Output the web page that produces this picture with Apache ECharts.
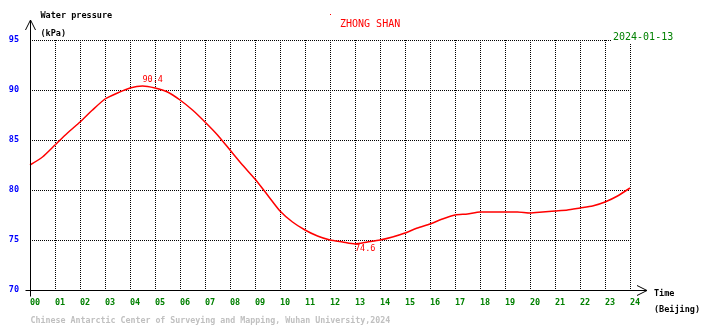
<!DOCTYPE html>
<html>
<head>
<meta charset="utf-8">
<script src="https://cdn.jsdelivr.net/npm/echarts@6/dist/echarts.min.js"></script>
<style>
  html, body { margin: 0; padding: 0; background: #ffffff; }
  #chart { width: 710px; height: 328px; }
</style>
</head>
<body>
<div id="chart"></div>
<script>
// Zhongshan station water pressure, one day, half-hourly readings (Beijing time)
const stationName = 'ZHONG SHAN';
const dateLabel = '2024-01-13';
const hours = [
  0, 0.5, 1, 1.5, 2, 2.5, 3, 3.5, 4, 4.5, 5, 5.5, 6, 6.5, 7, 7.5, 8, 8.5,
  9, 9.5, 10, 10.5, 11, 11.5, 12, 12.5, 13, 13.5, 14, 14.5, 15, 15.5, 16, 16.5,
  17, 17.5, 18, 18.5, 19, 19.5, 20, 20.5, 21, 21.5, 22, 22.5, 23, 23.5, 24
];
const pressure = [
  82.5, 83.3, 84.5, 85.7, 86.8, 88.0, 89.1, 89.7, 90.2, 90.4, 90.2, 89.8, 89.0, 88.0, 86.8, 85.5, 84.0, 82.5,
  81.1, 79.5, 77.9, 76.8, 76.0, 75.4, 75.0, 74.8, 74.6, 74.8, 75.0, 75.3, 75.7, 76.2, 76.6, 77.1,
  77.5, 77.6, 77.8, 77.8, 77.8, 77.8, 77.7, 77.8, 77.9, 78.0, 78.2, 78.4, 78.8, 79.4, 80.2
];
const hourTicks = ['00','01','02','03','04','05','06','07','08','09','10','11','12',
                   '13','14','15','16','17','18','19','20','21','22','23','24'];
const pressureTicks = [70, 75, 80, 85, 90, 95];

const MONO = '"DejaVu Sans Mono", "Liberation Mono", monospace';
const chart = echarts.init(document.getElementById('chart'), null, { renderer: 'canvas' });

const option = {
  animation: false,
  backgroundColor: '#ffffff',
  grid: { left: 30, right: 80, top: 40, bottom: 38, containLabel: false },
  xAxis: {
    type: 'value',
    min: 0, max: 24, interval: 1,
    axisLine: { show: false },
    axisTick: { show: false },
    axisLabel: {
      color: '#008000', fontFamily: MONO, fontSize: 8.5, fontWeight: 'bold',
      align: 'left', margin: 8,
      formatter: v => hourTicks[Math.round(v)]
    },
    splitLine: { show: true, lineStyle: { color: '#000000', type: 'dotted', width: 1 } }
  },
  yAxis: {
    type: 'value',
    min: pressureTicks[0], max: pressureTicks[pressureTicks.length - 1], interval: 5,
    axisLine: { show: false },
    axisTick: { show: false },
    axisLabel: {
      color: '#0000ff', fontFamily: MONO, fontSize: 8.5, fontWeight: 'bold',
      margin: 11, padding: [0, 0, 5, 0]
    },
    splitLine: { show: true, lineStyle: { color: '#000000', type: 'dotted', width: 1 } }
  },
  series: [{
    type: 'line',
    data: hours.map((h, i) => [h, pressure[i]]),
    showSymbol: false,
    smooth: 0.2,
    lineStyle: { color: '#ff0000', width: 1.5 },
    itemStyle: { color: '#ff0000' },
    markPoint: {
      symbol: 'circle',
      symbolSize: 1,
      itemStyle: { color: 'rgba(0,0,0,0)' },
      label: {
        show: true, color: '#ff0000', fontFamily: MONO, fontSize: 8.5,
        formatter: p => Number(p.value).toFixed(1)
      },
      data: [
        { type: 'max', label: { position: 'top', align: 'left', distance: 1 } },
        { type: 'min', label: { position: 'bottom', align: 'left', distance: 0 } }
      ]
    }
  }]
};
chart.setOption(option);

// Axes with arrowheads and captions, placed from the grid's own coordinates
const o = chart.convertToPixel({ gridIndex: 0 }, [0, 70]);
const t = chart.convertToPixel({ gridIndex: 0 }, [0, 95]);
const r = chart.convertToPixel({ gridIndex: 0 }, [24, 70]);
const ox = Math.round(o[0]) + 0.5, oy = Math.round(o[1]) + 0.5;
const ty = Math.round(t[1]), rx = Math.round(r[0]);
const axisStyle = { stroke: '#000000', lineWidth: 1, fill: null };
const textBase = { fontFamily: MONO, fontSize: 8.5, fontWeight: 'bold', fill: '#000000' };

chart.setOption({
  graphic: [
    { type: 'polyline', z: 10, shape: { points: [[ox, oy + 6], [ox, ty - 20]] }, style: axisStyle },
    { type: 'polyline', z: 10, shape: { points: [[ox - 5, ty - 10], [ox, ty - 20], [ox + 5, ty - 10]] }, style: axisStyle },
    { type: 'polyline', z: 10, shape: { points: [[ox - 5, oy], [rx + 17, oy]] }, style: axisStyle },
    { type: 'polyline', z: 10, shape: { points: [[rx + 7, oy - 5], [rx + 17, oy], [rx + 7, oy + 5]] }, style: axisStyle },
    { type: 'text', z: 10, left: ox + 10, top: ty - 29, style: Object.assign({ text: 'Water pressure' }, textBase) },
    { type: 'text', z: 10, left: ox + 10, top: ty - 11, style: Object.assign({ text: '(kPa)' }, textBase) },
    { type: 'text', z: 10, left: rx + 24, top: oy - 1, style: Object.assign({ text: 'Time' }, textBase) },
    { type: 'text', z: 10, left: rx + 24, top: oy + 15, style: Object.assign({ text: '(Beijing)' }, textBase) },
    { type: 'rect', z: 10, shape: { x: 330, y: 14, width: 1, height: 1 }, style: { fill: '#ff0000' } },
    { type: 'text', z: 10, left: 340, top: ty - 21,
      style: { text: stationName, fontFamily: MONO, fontSize: 10, fill: '#ff0000' } },
    { type: 'text', z: 10, left: rx - 18, top: ty - 8,
      style: { text: dateLabel, fontFamily: MONO, fontSize: 10, fill: '#008000',
               backgroundColor: '#ffffff', padding: [0, 1, 1, 1] } },
    { type: 'text', z: 10, left: ox, top: oy + 26,
      style: { text: 'Chinese Antarctic Center of Surveying and Mapping, Wuhan University,2024',
               fontFamily: MONO, fontSize: 8.3, fontWeight: 'bold', fill: '#c0c0c0' } }
  ]
});
</script>
</body>
</html>
